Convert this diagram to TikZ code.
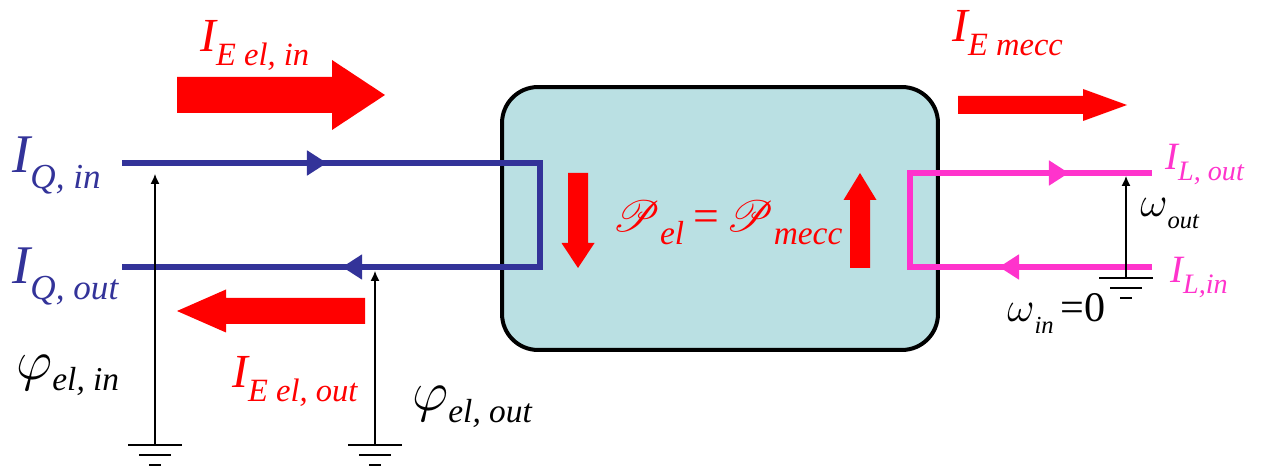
\documentclass[tikz,border=0pt]{standalone}
\usepackage{fix-cm}
\usepackage{fontspec}
\setmainfont{Liberation Serif}
\usepackage{mathrsfs}
\usetikzlibrary{arrows.meta,positioning,calc,decorations.markings}
\definecolor{elblue}{HTML}{333399}
\definecolor{mechpink}{HTML}{FF33CC}
\definecolor{flowred}{HTML}{FF0000}
\definecolor{convfill}{HTML}{BAE0E3}
\newcommand{\symsub}[5][0.28em]{\fontsize{#4}{#4}\selectfont#2\raisebox{-#1}{\fontsize{#5}{#5}\selectfont#3}}
\tikzset{
  pics/earth/.style={code={\draw[line width=0.8pt] (-27,0) -- (27,0) (-16,10) -- (16,10) (-6,20) -- (6,20);}},
  pics/fatarrow/.style args={#1/#2/#3/#4}{code={
    \fill[flowred] (0,{-#3/2}) -- ({#1-#4},{-#3/2}) -- ({#1-#4},{-#2/2}) -- (#1,0)
      -- ({#1-#4},{#2/2}) -- ({#1-#4},{#3/2}) -- (0,{#3/2}) -- cycle;}},
}

\begin{document}
\begin{tikzpicture}[
  x=0.02cm, y=-0.02cm, font=\itshape, >=Latex,
  conv/.style={draw=black, line width=0.08cm, fill=convfill, rounded corners=0.72cm, inner sep=0pt},
  qwire/.style={elblue, line width=0.12cm, line join=miter},
  lwire/.style={mechpink, line width=0.12cm, line join=miter},
  flowtips/.style 2 args={postaction={decorate}, decoration={markings,
    mark=at position #1 with {\arrow{Triangle[length=0.4cm,width=0.48cm]}},
    mark=at position #2 with {\arrow{Triangle[length=0.4cm,width=0.48cm]}}}},
  potential/.style={black, line width=0.7pt, -{Latex[length=0.2cm,width=0.18cm]}},
  lbl/.style={inner sep=0pt, anchor=base west},
]
  \useasboundingbox (0,0) rectangle (1261,469);
  \node[conv, minimum width=8.72cm, minimum height=5.26cm] (conv) at (720,218.5) {};

  % electrical side
  \coordinate (qin) at (122,163);
  \coordinate (qtr) at (540,163);
  \coordinate (qbr) at (540,267);
  \coordinate (qout) at (122,267);
  \draw[qwire, flowtips={4.1cm}{14.4cm}] (qin) -- (qtr) -- (qbr) -- (qout);

  % mechanical side
  \coordinate (lin) at (1152,267);
  \coordinate (lbl) at (910,267);
  \coordinate (ltl) at (910,173);
  \coordinate (lout) at (1152,173);
  \draw[lwire, flowtips={3.06cm}{9.9cm}] (lin) -- (lbl) -- (ltl) -- (lout);

  % grounds and potentials
  \foreach \gx/\gy [count=\k] in {155/445, 375/445, 1126/278} {
    \coordinate (g\k) at (\gx,\gy);
    \pic (gnd\k) at (g\k) {earth};
  }
  \coordinate (phin) at (155,174);
  \coordinate (phout) at (375,271);
  \coordinate (wout) at (1126,176);
  \draw[potential] (g1) -- (phin);
  \draw[potential] (g2) -- (phout);
  \draw[potential] (g3) -- (wout);

  % energy flows
  \pic (elin) at (177,95) {fatarrow=208/70/36/53};
  \pic[rotate=180] (elout) at (365,311) {fatarrow=188/43/26/49};
  \pic (emecc) at (958,105) {fatarrow=169/32/18/44};
  \pic[rotate=-90] (pdown) at (578,173) {fatarrow=95/33/20/25};
  \pic[rotate=90] (pup) at (860,268) {fatarrow=95/33/20/27};

  \node[lbl, text=elblue] (iqin) at (12,173) {\symsub{I}{Q, in}{31}{20}};
  \node[lbl, text=elblue] (iqout) at (12,284) {\symsub{I}{Q, out}{31}{20}};
  \node[lbl] (phiin) at (16,379) {\symsub[0.2em]{$\varphi$}{el, in}{32}{19}};
  \node[lbl] (phiout) at (412,411) {\symsub[0.2em]{$\varphi$}{el, out}{32}{19}};
  \node[lbl, text=flowred] (ieelin) at (200,52) {\symsub{I}{E el, in}{27}{18.5}};
  \node[lbl, text=flowred] (ieelout) at (232,388) {\symsub{I}{E el, out}{27}{18.5}};
  \node[lbl, text=flowred] (iemecc) at (952,42) {\symsub{I}{E mecc}{27}{18.5}};
  \node[lbl, text=flowred] (power) at (612,232)
    {\symsub{$\mathscr{P}$}{el}{26}{19}\fontsize{26}{26}\selectfont\hspace{0.2em}\textup{=}\hspace{0.15em}\symsub{$\mathscr{P}$}{mecc}{26}{19}};
  \node[lbl, text=mechpink] (ilout) at (1165,170) {\symsub{I}{L, out}{22}{16}};
  \node[lbl, text=mechpink] (ilin) at (1170,283) {\symsub{I}{L,in}{22}{16}};
  \node[lbl] (omout) at (1140,217) {\symsub{$\omega$}{out}{24}{14}};
  \node[lbl] (omin) at (1007,322) {\symsub{$\omega$}{in}{24}{14}\fontsize{24}{24}\selectfont\,\textup{=0}};
\end{tikzpicture}
\end{document}
